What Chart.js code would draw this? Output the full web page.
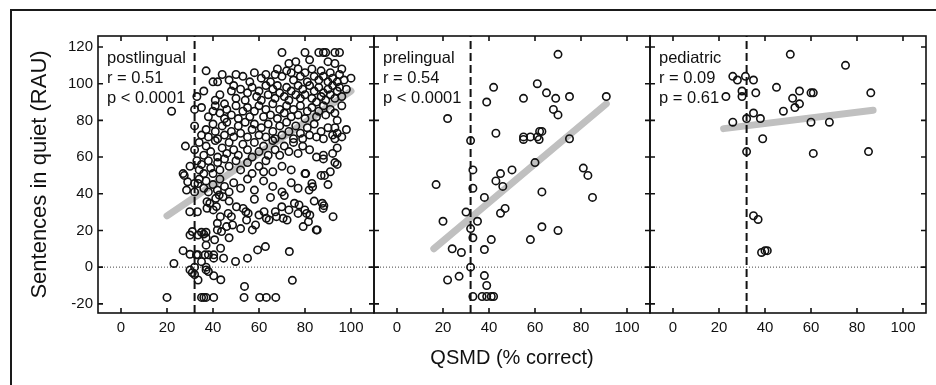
<!DOCTYPE html>
<html><head><meta charset="utf-8">
<script src="https://cdn.jsdelivr.net/npm/chart.js@4.4.1/dist/chart.umd.min.js"></script>
<style>
html,body{margin:0;padding:0;background:#fff;overflow:hidden;}
#wrap{position:relative;width:936px;height:385px;overflow:hidden;}
#frame{position:absolute;left:10px;top:9px;width:1000px;height:500px;border:2px solid #1a1a1a;box-sizing:border-box;}
canvas{position:absolute;left:0;top:0;}
</style></head><body>
<div id="wrap"><div id="frame"></div><canvas id="c" width="936" height="385"></canvas></div>
<script>
// ---- data ----
const X_TICKS = [0, 20, 40, 60, 80, 100];
const Y_TICKS = [-20, 0, 20, 40, 60, 80, 100, 120];
const X_MIN = -10, X_MAX = 110, Y_MIN = -25, Y_MAX = 126;
const PANEL_NAMES = ['postlingual', 'prelingual', 'pediatric'];
const R_TEXT = ['r = 0.51', 'r = 0.54', 'r = 0.09'];
const P_TEXT = ['p < 0.0001', 'p < 0.0001', 'p = 0.61'];
const CUTOFF = 32;
const X_TITLE = 'QSMD (% correct)';
const Y_TITLE = 'Sentences in quiet (RAU)';

const postlingual = [
[70,117],[80,117],[86,117],[88,117],[89,117],[93,117],[95,117],[73,111],[93,111],[76,112],[82,113],[90,112],
[37,107],[44,105],[42,101],[40,101],[47,102],[50,105],[49,99],[53,104],[56,101],[58,106],[61,103],[63,105],[65,101],[67,105],[68,108],[70,104],[72,107],[74,106],[75,102],[77,108],[78,104],[80,106],[81,101],[83,108],[84,104],[86,102],[87,107],[88,104],[90,101],[91,106],[92,103],[94,101],[95,105],[97,102],[100,103],[96,108],
[33,93],[36,96],[41,91],[43,94],[45,89],[48,96],[50,92],[52,97],[54,91],[55,95],[57,98],[59,93],[60,96],[61,91],[63,99],[64,94],[66,97],[67,92],[68,99],[69,95],[71,93],[72,98],[73,91],[74,96],[76,94],[77,99],[78,92],[79,97],[80,94],[82,99],[83,92],[84,96],[85,90],[86,98],[87,93],[88,95],[89,91],[90,97],[91,94],[92,99],[93,92],[94,96],[95,98],[96,93],[98,97],
[22,85],[32,86],[35,87],[38,82],[40,85],[41,88],[43,84],[45,81],[46,86],[48,83],[50,88],[51,81],[53,85],[55,87],[56,82],[58,85],[60,88],[62,82],[63,86],[65,83],[66,89],[68,81],[69,86],[71,84],[72,88],[74,82],[75,86],[77,83],[78,88],[80,81],[81,85],[83,87],[85,82],[86,85],[88,88],[89,83],[91,86],[93,84],[94,80],[96,88],
[32,77],[35,72],[37,75],[38,71],[40,78],[41,74],[42,70],[44,77],[45,72],[46,79],[48,74],[49,71],[51,77],[52,73],[54,79],[55,71],[57,75],[58,78],[60,72],[61,76],[63,71],[64,78],[66,74],[67,70],[69,77],[70,72],[72,79],[73,74],[75,70],[76,77],[78,73],[79,70],[81,76],[82,72],[84,78],[85,71],[87,74],[88,70],[90,76],[92,72],[93,76],[94,73],[93,70],[98,75],[96,71],
[28,66],[32,64],[34,68],[36,61],[37,66],[39,63],[41,69],[42,60],[44,65],[46,62],[47,68],[49,64],[51,61],[53,67],[55,64],[57,60],[58,68],[60,63],[62,66],[64,61],[66,69],[67,64],[69,61],[71,66],[73,63],[75,68],[77,62],[79,66],[82,64],[85,60],[88,61],[92,62],[94,65],
[27,51],[30,55],[33,58],[34,53],[35,56],[36,51],[38,58],[39,54],[40,51],[42,57],[43,53],[45,59],[47,55],[50,58],[52,53],[55,57],[57,51],[60,55],[63,58],[66,52],[70,55],[74,53],[80,51],[87,50],[93,57],[91,52],[88,59],[94,56],[62,52],
[27.5,50],[28.5,42],[29,46.5],[32,45.6],[33.5,45.6],[32,41],[34,48],[36,43],[37,47],[38,41],[40,45],[41.9,42],[43,48],[45,44],[47,41],[49,46],[52,43],[55,48],[58,42],[62,47],[66,44],[70,41],[74,46],[77,43],[80.3,51],[81.8,42],[83,45.6],[83.3,43.8],[88.5,50],[90,45],
[29.9,30.2],[33.2,30.2],[37.4,35.7],[38.6,34.8],[37.4,32.1],[40.1,31.2],[41.5,33],[42.7,39.3],[41.2,37.5],[44.4,38.4],[50.2,32.9],[53.1,32],[54.3,30.2],[62.2,30.2],[67.1,30.2],[69.9,32.9],[73,31.2],[75.4,34.8],[77.4,33.9],[79.9,31.2],[87.9,32],[88.2,33.5],[87.5,34.8],[47,36],[58,37],[65,38],[71,39],[84,36],
[41.9,23.9],[43.2,27.5],[46.6,29.3],[48,27.5],[55.3,29.3],[54.6,25.7],[58.5,23],[60,28.4],[63.2,26.6],[64.4,25.7],[67.6,27.5],[70.5,26.6],[72.2,25.7],[77,29.3],[79.2,22.1],[82.1,28.4],[80.7,29.3],[81.5,24.8],[84.9,20.3],[92.2,27.5],[45.9,22.1],[48.5,23],[52,21],
[30,17.5],[31,19.4],[33.5,17.5],[35,19],[36,18],[37,19],[37,16],[37,12],[41.9,20.3],[43.7,19.4],[57.1,20.3],[85.3,20.3],[40.7,14.9],[43.3,10.3],[62.8,11.2],[47,16],
[27,9],[30,7],[32.8,6.7],[33.5,6.7],[36.5,6.7],[38,6.7],[40.3,6.7],[40.3,4.9],[23,2],[32,0],[37,0],[44.6,4.9],[49.8,3.1],[55,4.9],[59.4,9.4],[73.2,8.5],[35,3],
[30,-1.5],[31,-3],[33.5,-7],[37,-1.5],[38,-2.4],[40.3,-4.7],[43.4,-6.9],[74.5,-7.2],[32,-4],[53.7,-10.5],
[20,-16.5],[35,-16.5],[36,-16.5],[37,-16.5],[40.3,-16.5],[53.5,-16.5],[60.3,-16.5],[63.2,-16.5],[67.3,-16.5]
];
const prelingual = [
[70,116],[61,100],[42,98],[65,95],[39,90],[55,92],[69,92],[75,93],[91,93],[68,86],[70,83],[22,81],
[32,69],[43,73],[55,71],[55,69.6],[58,71],[61,71],[62,74],[63,74],[61.8,69.6],[75,70],
[60,57],[50,53],[33,53],[45,51],[43,47],[46,44],[33,43],[17,45],[81,54],[83,50],[85,38],[63,41],[38,38],
[30,30],[47,32],[45,29.4],[20,25],[35,25],[32,21],[63,22],[70,20],[33,16],[41,15],[58,15],
[24,10],[28,8],[38,9.6],[32,0],[22,-7],[27,-5],[38,-4.6],[39,-10],
[33,-16],[37,-16],[39,-16],[41,-16],[42,-16]
];
const pediatric = [
[51,116],[75,110],[26,104],[28,102],[31.5,104],[35,102],[30,96],[30,93],[23,93],[36,95],[45,98],[55,96],
[52,92],[60,95],[61,95],[86,95],[55,89],[53,87],[48,85],[35,84],[32,81],[38,81],[26,79],[60,79],[68,79],
[39,70],[32,63],[61,62],[85,63],[35,28],[37,26],[38.5,8],[40,9],[41,9]
];
const FIT_POST = [[20, 28], [100, 96]];
const FIT_PRE = [[16, 10], [91, 89]];
const FIT_PED = [[22, 75.5], [87, 85.5]];

// ---- build chart ----
const PANELS = [
  {pts: postlingual, fit: FIT_POST},
  {pts: prelingual, fit: FIT_PRE},
  {pts: pediatric, fit: FIT_PED}
];
const FONT = '"Liberation Sans", Arial, Helvetica, sans-serif';
const INK = '#111';
const TOP = 36, BOTTOM = 313, LEFT = 98, RIGHT_PAD = 10, H = 385;

const datasets = [];
PANELS.forEach((p, i) => {
  const xid = 'x' + i;
  datasets.push({
    data: p.pts.map(([x, y]) => ({x, y})), xAxisID: xid, yAxisID: 'y',
    pointRadius: 3.7, pointBorderWidth: 1.6, pointBorderColor: INK,
    pointBackgroundColor: 'rgba(0,0,0,0)', showLine: false, order: 1
  });
  datasets.push({
    data: p.fit.map(([x, y]) => ({x, y})), xAxisID: xid, yAxisID: 'y',
    showLine: true, borderColor: '#c0c0c0', borderWidth: 7, borderCapStyle: 'round',
    pointRadius: 0, order: 2
  });
  datasets.push({
    data: [{x: CUTOFF, y: Y_MIN}, {x: CUTOFF, y: Y_MAX}], xAxisID: xid, yAxisID: 'y',
    showLine: true, borderColor: INK, borderWidth: 2, borderDash: [8, 4],
    pointRadius: 0, order: 0
  });
  datasets.push({
    data: [{x: X_MIN, y: 0}, {x: X_MAX, y: 0}], xAxisID: xid, yAxisID: 'y',
    showLine: true, borderColor: '#444', borderWidth: 1, borderDash: [1, 2],
    pointRadius: 0, order: 3
  });
});

function xScale(i) {
  return {
    type: 'linear', axis: 'x', position: 'bottom', stack: 'panels', stackWeight: 1,
    min: X_MIN, max: X_MAX,
    afterBuildTicks: s => { s.ticks = X_TICKS.map(v => ({value: v})); },
    afterFit: s => { s.height = H - BOTTOM; },
    grid: {display: false, drawTicks: false}, border: {display: false},
    ticks: {font: {family: FONT, size: 15}, color: INK, padding: 6, maxRotation: 0, autoSkip: false},
    title: {display: i === 1, text: X_TITLE, color: INK, font: {family: FONT, size: 20}, padding: {top: 0, bottom: 15}}
  };
}

const panelPlugin = {
  id: 'panels',
  afterDraw(chart) {
    const ctx = chart.ctx;
    const ys = chart.scales.y;
    ctx.save();
    ctx.strokeStyle = INK;
    ctx.lineWidth = 1.6;
    for (let i = 0; i < 3; i++) {
      const xs = chart.scales['x' + i];
      ctx.strokeRect(xs.left, ys.top, xs.right - xs.left, ys.bottom - ys.top);
      ctx.beginPath();
      X_TICKS.forEach(v => {
        const px = xs.getPixelForValue(v);
        ctx.moveTo(px, ys.bottom); ctx.lineTo(px, ys.bottom - 5);
        ctx.moveTo(px, ys.top); ctx.lineTo(px, ys.top + 5);
      });
      Y_TICKS.forEach(v => {
        const py = ys.getPixelForValue(v);
        ctx.moveTo(xs.left, py); ctx.lineTo(xs.left + 5, py);
        ctx.moveTo(xs.right, py); ctx.lineTo(xs.right - 5, py);
      });
      ctx.stroke();
      ctx.fillStyle = INK;
      ctx.font = '16.5px ' + FONT;
      ctx.textAlign = 'left';
      ctx.textBaseline = 'alphabetic';
      const tx = xs.left + 9;
      ctx.fillText(PANEL_NAMES[i], tx, ys.top + 27);
      ctx.fillText(R_TEXT[i], tx, ys.top + 47);
      ctx.fillText(P_TEXT[i], tx, ys.top + 67);
    }
    ctx.restore();
  }
};

new Chart(document.getElementById('c'), {
  type: 'scatter',
  data: {datasets},
  options: {
    responsive: false, animation: false, devicePixelRatio: 1,
    layout: {padding: {left: 0, right: RIGHT_PAD, top: TOP, bottom: 0}},
    plugins: {legend: {display: false}, tooltip: {enabled: false}},
    scales: {
      x0: xScale(0), x1: xScale(1), x2: xScale(2),
      y: {
        type: 'linear', axis: 'y', position: 'left', min: Y_MIN, max: Y_MAX,
        afterBuildTicks: s => { s.ticks = Y_TICKS.map(v => ({value: v})); },
        afterFit: s => { s.width = LEFT; },
        grid: {display: false, drawTicks: false}, border: {display: false},
        ticks: {font: {family: FONT, size: 15}, color: INK, padding: 5, autoSkip: false},
        title: {display: true, text: Y_TITLE, color: INK, font: {family: FONT, size: 22}, padding: {top: 27, bottom: 0}}
      }
    }
  },
  plugins: [panelPlugin]
});
</script>
</body></html>
